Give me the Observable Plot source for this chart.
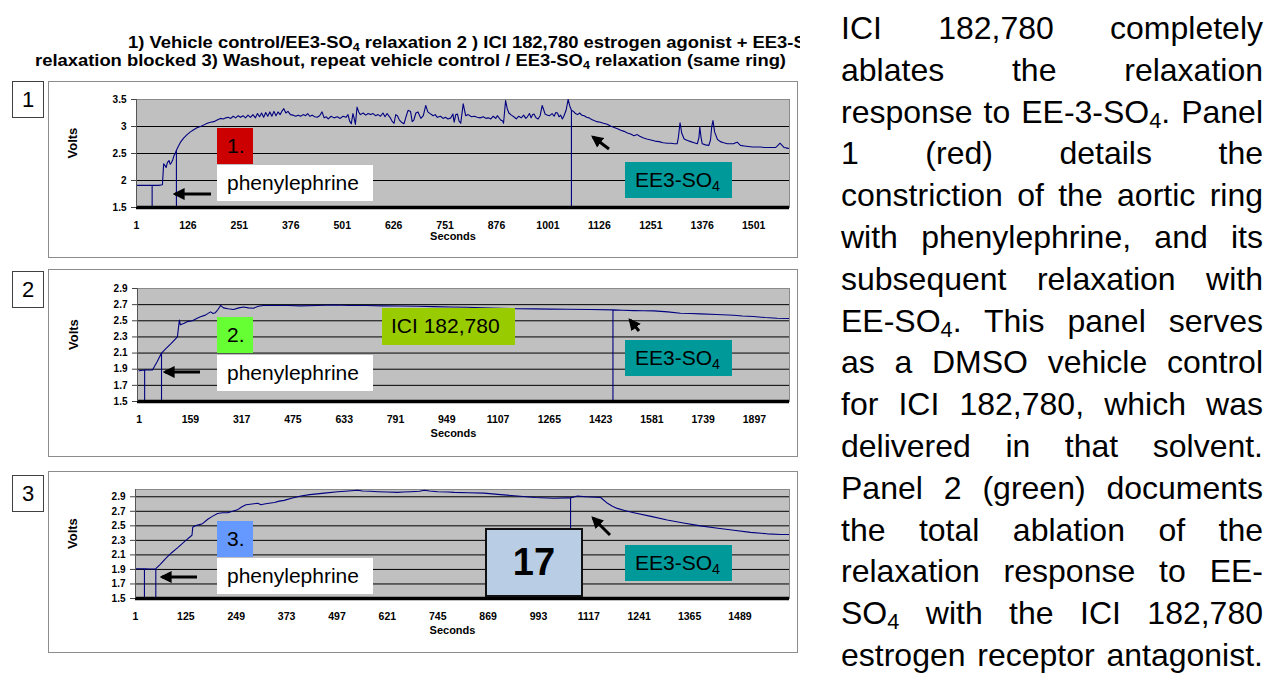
<!DOCTYPE html>
<html><head><meta charset="utf-8">
<script src="https://cdn.jsdelivr.net/npm/d3@7"></script>
<script src="https://cdn.jsdelivr.net/npm/@observablehq/plot@0.6"></script>
<style>
html,body{margin:0;padding:0;background:#fff;}
body{width:1272px;height:673px;overflow:hidden;position:relative;font-family:"Liberation Sans",Arial,sans-serif;color:#000;}
.panel{position:absolute;left:48px;width:748px;border:1px solid #8c8c8c;background:#fff;}
.panel svg{display:block;}
.num{position:absolute;left:12px;width:30px;height:35px;line-height:35px;border:1px solid #404040;font-size:22px;text-align:center;background:#fff;}
.lab{position:absolute;font-size:21px;line-height:36px;height:36px;white-space:nowrap;padding-left:10px;box-sizing:border-box;}
.lab sub,.title sub{font-size:0.68em;vertical-align:-0.28em;line-height:0;}
.para{position:absolute;left:841px;top:8px;width:422px;font-size:32px;line-height:41.8px;}
.para div{text-align:justify;text-align-last:justify;white-space:nowrap;}
.para sub{font-size:0.68em;vertical-align:-0.25em;line-height:0;}
.title{position:absolute;left:0;top:32px;width:800px;height:42px;overflow:hidden;font-weight:bold;font-size:16.5px;line-height:18px;font-family:"Liberation Sans Narrow","Arial Narrow","Liberation Sans",Arial,sans-serif;}
.title div{position:absolute;white-space:nowrap;transform-origin:0 0;}
.box17{position:absolute;left:485px;top:528px;width:98px;height:69px;box-sizing:border-box;border:2px solid #111;background:#b9cde5;font-weight:bold;font-size:38px;line-height:65px;text-align:center;}
</style>
</head><body>
<script>
// ---------- data ----------
const t1 = [1,20,39,39,39,55,64,67,70,73,76,80,83,85,89,92,95,98,98,98,103,108,116,124,132,140,149,157,165,173,181,189,197,205,212,218,224,230,236,242,248,254,260,266,272,278,284,290,295,300,305,310,315,320,325,330,335,340,345,350,355,359,364,369,375,382,388,394,400,406,412,417,422,428,434,440,446,452,457,462,467,474,481,489,496,503,510,515,519,523,527,530,533,537,541,545,552,558,564,570,576,582,588,594,600,605,610,617,622,627,631,635,640,645,651,656,661,667,671,675,680,685,692,698,704,709,716,722,727,732,740,746,752,758,765,770,773,777,781,785,789,795,801,807,815,822,829,836,844,850,856,862,868,874,878,886,891,893,898,902,906,912,918,924,930,936,942,947,951,956,960,964,967,972,977,982,987,991,994,1000,1005,1011,1016,1020,1024,1028,1032,1036,1040,1045,1050,1054,1058,1058,1058,1063,1068,1073,1078,1083,1089,1095,1101,1107,1113,1120,1128,1136,1145,1153,1162,1170,1178,1186,1194,1202,1210,1218,1224,1232,1241,1251,1261,1271,1281,1291,1300,1308,1315,1318,1322,1326,1332,1340,1348,1356,1364,1368,1370,1373,1376,1384,1392,1396,1399,1402,1406,1413,1420,1428,1437,1445,1452,1457,1461,1465,1469,1478,1488,1498,1508,1518,1528,1538,1548,1554,1560,1565,1570,1575,1582,1588];
const v1 = [1.91,1.91,1.91,1.5,1.91,1.91,1.92,2.31,2.28,2.24,2.33,2.37,2.30,2.32,2.38,2.46,2.50,2.56,1.5,2.56,2.64,2.71,2.79,2.85,2.90,2.94,2.98,3.00,3.03,3.06,3.08,3.09,3.12,3.15,3.14,3.16,3.17,3.15,3.19,3.16,3.20,3.17,3.20,3.16,3.21,3.17,3.22,3.16,3.24,3.18,3.25,3.17,3.26,3.19,3.27,3.19,3.28,3.20,3.27,3.22,3.29,3.33,3.25,3.28,3.22,3.21,3.19,3.21,3.19,3.22,3.20,3.24,3.19,3.21,3.18,3.17,3.20,3.27,3.16,3.18,3.14,3.19,3.16,3.18,3.15,3.19,3.17,3.22,3.10,3.05,3.24,3.15,3.04,3.36,3.27,3.22,3.25,3.21,3.24,3.22,3.24,3.20,3.22,3.19,3.25,3.18,3.24,3.17,3.10,3.06,3.22,3.20,3.12,3.08,3.05,3.18,3.30,3.28,3.09,3.12,3.25,3.27,3.15,3.20,3.39,3.27,3.23,3.20,3.22,3.17,3.19,3.15,3.17,3.14,3.16,3.23,3.08,3.22,3.23,3.10,3.06,3.42,3.20,3.22,3.18,3.19,3.17,3.16,3.18,3.15,3.16,3.14,3.19,3.15,3.20,3.12,3.10,3.06,3.48,3.33,3.25,3.21,3.18,3.14,3.19,3.16,3.21,3.15,3.18,3.24,3.16,3.22,3.23,3.16,3.14,3.20,3.39,3.30,3.23,3.21,3.20,3.24,3.19,3.26,3.25,3.18,3.21,3.14,3.20,3.30,3.50,3.38,3.30,1.5,3.30,3.28,3.24,3.22,3.25,3.21,3.20,3.17,3.16,3.13,3.11,3.09,3.08,3.06,3.04,3.01,2.98,2.96,2.93,2.91,2.88,2.86,2.83,2.85,2.82,2.79,2.77,2.75,2.73,2.72,2.70,2.69,2.69,2.68,2.68,2.80,3.07,2.88,2.77,2.74,2.72,2.70,2.68,2.80,2.99,2.80,2.68,2.66,2.65,2.75,3.00,3.11,2.90,2.76,2.72,2.70,2.68,2.68,2.68,2.70,2.71,2.68,2.65,2.64,2.63,2.62,2.62,2.62,2.61,2.61,2.61,2.61,2.65,2.69,2.65,2.61,2.60,2.59];

const t2 = [1,18,18,18,30,42,56,70,70,70,85,100,119,125,128,140,150,165,180,190,205,221,229,236,244,252,261,275,292,308,323,338,353,368,384,420,460,498,550,600,650,700,750,806,860,909,960,1012,1060,1114,1165,1217,1270,1320,1390,1461,1461,1461,1490,1525,1555,1587,1630,1669,1700,1731,1780,1833,1860,1894,1930,1967,2003];
const v2 = [1.88,1.89,1.5,1.89,1.89,1.89,1.99,2.10,1.5,2.10,2.16,2.22,2.30,2.51,2.45,2.47,2.49,2.50,2.53,2.55,2.57,2.61,2.59,2.60,2.64,2.69,2.66,2.65,2.64,2.66,2.67,2.66,2.655,2.68,2.69,2.69,2.69,2.685,2.69,2.695,2.69,2.69,2.685,2.684,2.68,2.675,2.67,2.667,2.66,2.655,2.65,2.647,2.645,2.642,2.64,2.635,1.5,2.635,2.63,2.626,2.625,2.623,2.61,2.593,2.59,2.586,2.578,2.569,2.56,2.553,2.54,2.532,2.528];

const t3 = [1,12,23,23,23,37,51,51,51,62,75,90,105,125,140,142,148,154,166,179,190,203,215,228,240,252,262,273,288,302,310,318,330,343,355,367,385,408,430,466,499,525,548,560,580,597,620,646,660,679,700,712,725,745,770,786,820,859,900,941,985,1031,1060,1072,1072,1072,1089,1110,1146,1163,1175,1187,1205,1228,1270,1310,1350,1392,1430,1474,1515,1556,1590,1611];
const v3 = [1.91,1.91,1.91,1.5,1.91,1.905,1.91,1.5,1.91,1.97,2.05,2.13,2.20,2.30,2.37,2.48,2.50,2.51,2.53,2.59,2.63,2.67,2.68,2.68,2.70,2.72,2.76,2.79,2.80,2.81,2.79,2.80,2.81,2.82,2.84,2.85,2.88,2.91,2.93,2.95,2.97,2.98,2.99,2.98,2.975,2.97,2.965,2.96,2.965,2.97,2.975,2.99,2.98,2.97,2.965,2.96,2.955,2.95,2.93,2.91,2.89,2.88,2.885,2.885,1.5,2.885,2.91,2.90,2.89,2.81,2.77,2.74,2.71,2.68,2.63,2.58,2.54,2.50,2.47,2.44,2.41,2.39,2.38,2.38];

const xTicks1 = [1,126,251,376,501,626,751,876,1001,1126,1251,1376,1501];
const xTicks2 = [1,159,317,475,633,791,949,1107,1265,1423,1581,1739,1897];
const xTicks3 = [1,125,249,373,497,621,745,869,993,1117,1241,1365,1489];
const yTicks1 = [1.5,2,2.5,3,3.5];
const yTicks2 = [1.5,1.7,1.9,2.1,2.3,2.5,2.7,2.9];
const yTicks3 = [1.5,1.7,1.9,2.1,2.3,2.5,2.7,2.9];
const grid1 = [2,2.5,3];
const grid2 = [1.7,1.9,2.1,2.3,2.5,2.7];
const grid3 = [1.7,1.9,2.1,2.3,2.5,2.7,2.9];
const xDomain1 = [1,1588], xDomain2 = [-4,2005], xDomain3 = [1,1611];
const yDomain1 = [1.5,3.5], yDomain2 = [1.5,2.9], yDomain3 = [1.5,3.0];

function panel(o) {
  const data = o.t.map((d, i) => ({t: d, v: o.v[i]}));
  return Plot.plot({
    width: 748, height: o.H,
    marginLeft: o.ml, marginRight: 8, marginTop: o.mt, marginBottom: o.mb,
    x: {domain: o.xDomain}, y: {domain: o.yDomain},
    style: {fontFamily: "'Liberation Sans', Arial, sans-serif", background: "#fff", overflow: "visible"},
    marks: [
      Plot.frame({fill: "#c0c0c0", stroke: null}),
      Plot.ruleY(o.grid, {stroke: "#000", strokeWidth: 1}),
      Plot.frame({stroke: "#8a8a8a"}),
      Plot.line(data, {x: "t", y: "v", stroke: "#000080", strokeWidth: 1.1, clip: true}),
      Plot.ruleY([o.yDomain[0]], {stroke: "#000", strokeWidth: 3.5}),
      Plot.ruleX([o.xDomain[0]], {stroke: "#555"}),
      Plot.axisY(o.yTicks, {tickSize: 5, tickPadding: 5, fontWeight: "bold", fontSize: 10, tickFormat: d => String(d), label: null, stroke: "#444"}),
      Plot.axisX(o.xTicks, {tickSize: 0, tickPadding: 14, fontWeight: "bold", fontSize: 10.5, tickFormat: d => String(d), label: null}),
      Plot.text(["Volts"], {text: d => d, frameAnchor: "left", dx: o.vdx, dy: o.vdy, rotate: -90, fontWeight: "bold", fontSize: 13}),
      Plot.text(["Seconds"], {text: d => d, frameAnchor: "bottom", dx: -10, dy: o.sdy, fontWeight: "bold", fontSize: 11})
    ]
  });
}
</script>

<div class="title"><div id="tl1" style="left:128px;top:1px;">1) Vehicle control/EE3-SO<sub>4</sub> relaxation 2 ) ICI 182,780 estrogen agonist + EE3-SO<sub>4</sub></div><div id="tl2" style="left:35px;top:19px;">relaxation blocked 3) Washout, repeat vehicle control / EE3-SO<sub>4</sub> relaxation (same ring)</div></div>

<div class="panel" id="p1" style="top:81px;height:175px;"></div>
<div class="panel" id="p2" style="top:269px;height:186px;"></div>
<div class="panel" id="p3" style="top:471px;height:180px;"></div>

<div class="num" style="top:81px;">1</div>
<div class="num" style="top:271px;">2</div>
<div class="num" style="top:475px;">3</div>

<div class="lab" style="left:217px;top:128px;width:36px;background:#cc0000;">1.</div>
<div class="lab" style="left:217px;top:165px;width:156px;background:#fff;">phenylephrine</div>
<div class="lab" style="left:625px;top:162px;width:107px;background:#009999;">EE3-SO<sub>4</sub></div>

<div class="lab" style="left:217px;top:317px;width:36px;background:#66ff33;">2.</div>
<div class="lab" style="left:217px;top:355px;width:156px;background:#fff;">phenylephrine</div>
<div class="lab" style="left:382px;top:308px;width:133px;height:37px;background:#99cc00;padding-left:9px;">ICI 182,780</div>
<div class="lab" style="left:625px;top:340px;width:107px;background:#009999;">EE3-SO<sub>4</sub></div>

<div class="lab" style="left:217px;top:521px;width:36px;background:#6699ff;">3.</div>
<div class="lab" style="left:217px;top:558px;width:156px;background:#fff;">phenylephrine</div>
<div class="lab" style="left:625px;top:545px;width:107px;background:#009999;">EE3-SO<sub>4</sub></div>
<div class="box17">17</div>

<svg style="position:absolute;left:0;top:0;" width="1272" height="673">
<defs><marker id="ah" viewBox="0 0 10 10" refX="8" refY="5" markerWidth="4" markerHeight="4.2" orient="auto"><path d="M0,0L10,5L0,10z" fill="#000"/></marker></defs>
<g stroke="#000" stroke-width="3" marker-end="url(#ah)">
<line x1="211" y1="194" x2="175" y2="194"/>
<line x1="609" y1="149" x2="593" y2="137"/>
<line x1="200" y1="372" x2="165" y2="372"/>
<line x1="639" y1="331" x2="630" y2="320"/>
<line x1="197" y1="577" x2="162" y2="577"/>
<line x1="610" y1="535" x2="593" y2="518"/>
</g>
</svg>

<div class="para">
<div>ICI 182,780 completely</div>
<div>ablates the relaxation</div>
<div>response to EE-3-SO<sub>4</sub>. Panel</div>
<div>1 (red) details the</div>
<div>constriction of the aortic ring</div>
<div>with phenylephrine, and its</div>
<div>subsequent relaxation with</div>
<div>EE-SO<sub>4</sub>. This panel serves</div>
<div>as a DMSO vehicle control</div>
<div>for ICI 182,780, which was</div>
<div>delivered in that solvent.</div>
<div>Panel 2 (green) documents</div>
<div>the total ablation of the</div>
<div>relaxation response to EE-</div>
<div>SO<sub>4</sub> with the ICI 182,780</div>
<div>estrogen receptor antagonist.</div>
</div>

<script>
document.getElementById("p1").appendChild(panel({t: t1, v: v1, xDomain: xDomain1, yDomain: yDomain1, xTicks: xTicks1, yTicks: yTicks1, grid: grid1, H: 175, ml: 87, mt: 17, mb: 50, vdx: -64, vdy: 5, sdy: 32}));
document.getElementById("p2").appendChild(panel({t: t2, v: v2, xDomain: xDomain2, yDomain: yDomain2, xTicks: xTicks2, yTicks: yTicks2, grid: grid2, H: 186, ml: 88, mt: 18, mb: 55, vdx: -64, vdy: 5, sdy: 35}));
document.getElementById("p3").appendChild(panel({t: t3, v: v3, xDomain: xDomain3, yDomain: yDomain3, xTicks: xTicks3, yTicks: yTicks3, grid: grid3, H: 180, ml: 86, mt: 17, mb: 54, vdx: -63, vdy: 5, sdy: 35}));
// fit title width
const tl1 = document.getElementById("tl1"), tl2 = document.getElementById("tl2");
const w2 = tl2.getBoundingClientRect().width;
const s = 751 / w2;
tl1.style.transform = `scaleX(${s})`;
tl2.style.transform = `scaleX(${s})`;
</script>
</body></html>
